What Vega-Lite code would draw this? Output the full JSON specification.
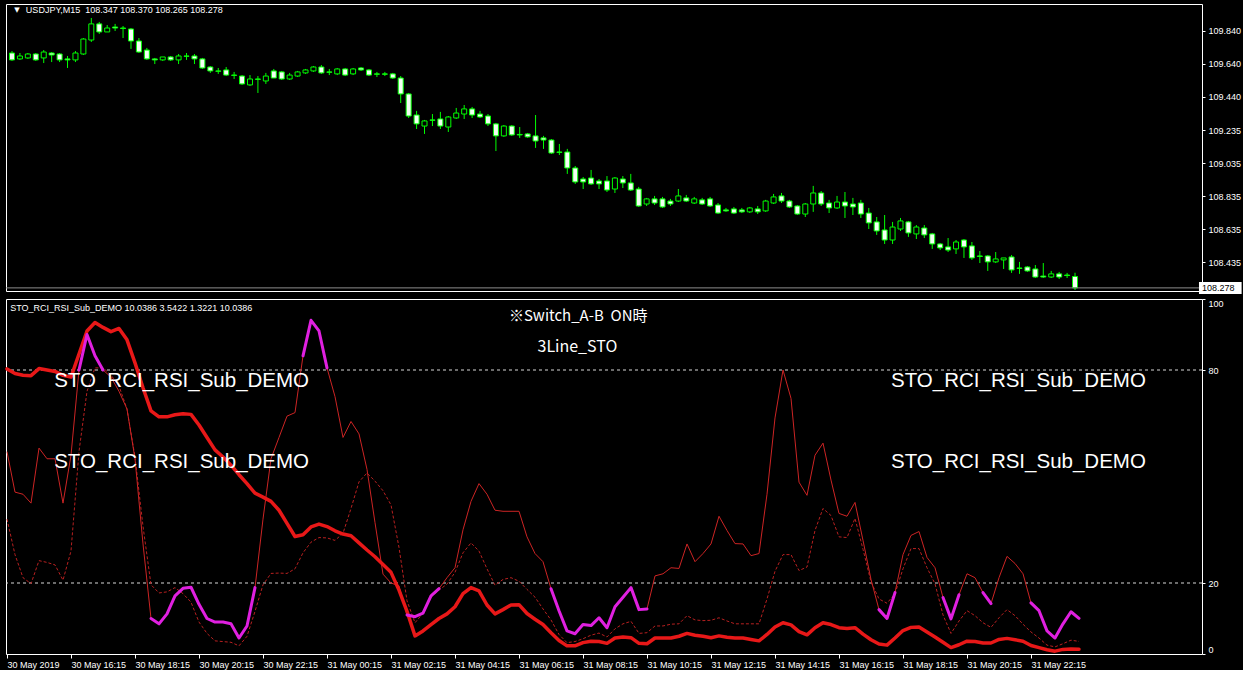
{
"$schema": "https://vega.github.io/schema/vega-lite/v6.json",
"background": "black",
"padding": {"left": 4, "top": 3, "right": 0, "bottom": 0},
"bounds": "flush",
"spacing": 8,
"config": {
  "view": {"stroke": "white", "strokeWidth": 1, "fill": "black"},
  "font": "Liberation Sans",
  "axis": {"labelColor": "white", "tickColor": "white", "domain": false, "grid": false, "labelFont": "Liberation Sans", "labelFontSize": 9, "tickSize": 3, "labelPadding": 3}
},
"datasets": {
  "levels": [{"lvl": 80}, {"lvl": 20}],
  "price": [{"p": 108.278}],
  "one": [{"k": 1}],
  "bars": [
{"i":0,"o":109.706,"h":109.718,"l":109.658,"c":109.664,"f":57,"d":38,"s":80.3,"m":null},
{"i":1,"o":109.670,"h":109.706,"l":109.664,"c":109.688,"f":45.6,"d":28,"s":79,"m":null},
{"i":2,"o":109.676,"h":109.706,"l":109.670,"c":109.700,"f":45,"d":21.5,"s":78.5,"m":null},
{"i":3,"o":109.700,"h":109.706,"l":109.658,"c":109.664,"f":42.5,"d":19.8,"s":78.4,"m":null},
{"i":4,"o":109.676,"h":109.724,"l":109.645,"c":109.712,"f":58,"d":26.3,"s":80.4,"m":null},
{"i":5,"o":109.706,"h":109.712,"l":109.651,"c":109.694,"f":55,"d":25.8,"s":80,"m":null},
{"i":6,"o":109.700,"h":109.706,"l":109.651,"c":109.664,"f":55,"d":25.1,"s":79.6,"m":null},
{"i":7,"o":109.670,"h":109.688,"l":109.615,"c":109.664,"f":42.5,"d":20.8,"s":78.5,"m":null},
{"i":8,"o":109.664,"h":109.718,"l":109.651,"c":109.706,"f":56,"d":29,"s":78,"m":null},
{"i":9,"o":109.700,"h":109.797,"l":109.694,"c":109.791,"f":80,"d":57,"s":84.5,"m":80},
{"i":10,"o":109.785,"h":109.919,"l":109.773,"c":109.883,"f":90,"d":74,"s":91,"m":90},
{"i":11,"o":109.883,"h":109.895,"l":109.822,"c":109.834,"f":84,"d":80.6,"s":93.4,"m":84},
{"i":12,"o":109.834,"h":109.876,"l":109.834,"c":109.858,"f":80,"d":80.6,"s":92,"m":80},
{"i":13,"o":109.864,"h":109.883,"l":109.840,"c":109.858,"f":78,"d":78.6,"s":90.8,"m":null},
{"i":14,"o":109.858,"h":109.870,"l":109.797,"c":109.855,"f":74,"d":75.5,"s":91.7,"m":null},
{"i":15,"o":109.852,"h":109.858,"l":109.731,"c":109.779,"f":69,"d":69,"s":88.5,"m":null},
{"i":16,"o":109.779,"h":109.797,"l":109.706,"c":109.712,"f":55,"d":55.5,"s":82,"m":null},
{"i":17,"o":109.724,"h":109.737,"l":109.664,"c":109.670,"f":31,"d":36,"s":75,"m":null},
{"i":18,"o":109.670,"h":109.676,"l":109.639,"c":109.664,"f":10,"d":19.5,"s":68.5,"m":10},
{"i":19,"o":109.664,"h":109.676,"l":109.658,"c":109.682,"f":8.5,"d":17.2,"s":66.8,"m":8.5},
{"i":20,"o":109.682,"h":109.688,"l":109.658,"c":109.664,"f":11.3,"d":17.5,"s":66.8,"m":11.3},
{"i":21,"o":109.664,"h":109.700,"l":109.639,"c":109.688,"f":16.4,"d":18.7,"s":67.4,"m":16.4},
{"i":22,"o":109.688,"h":109.706,"l":109.664,"c":109.686,"f":18.5,"d":17,"s":67.7,"m":18.5},
{"i":23,"o":109.688,"h":109.700,"l":109.639,"c":109.670,"f":18.8,"d":14.6,"s":67.5,"m":18.8},
{"i":24,"o":109.670,"h":109.676,"l":109.609,"c":109.615,"f":14,"d":9,"s":64.5,"m":14},
{"i":25,"o":109.621,"h":109.627,"l":109.585,"c":109.597,"f":10,"d":5.8,"s":61,"m":10},
{"i":26,"o":109.597,"h":109.615,"l":109.579,"c":109.595,"f":9,"d":3.7,"s":57.5,"m":9},
{"i":27,"o":109.603,"h":109.621,"l":109.566,"c":109.572,"f":9,"d":3.5,"s":55.5,"m":9},
{"i":28,"o":109.572,"h":109.591,"l":109.548,"c":109.570,"f":8.5,"d":3.3,"s":53.2,"m":8.5},
{"i":29,"o":109.566,"h":109.572,"l":109.512,"c":109.518,"f":4.5,"d":2.3,"s":50.5,"m":4.5},
{"i":30,"o":109.512,"h":109.572,"l":109.506,"c":109.548,"f":7.9,"d":5,"s":48,"m":7.9},
{"i":31,"o":109.548,"h":109.566,"l":109.463,"c":109.546,"f":18.7,"d":12,"s":45.3,"m":18.7},
{"i":32,"o":109.536,"h":109.585,"l":109.518,"c":109.566,"f":38,"d":19.5,"s":44.2,"m":null},
{"i":33,"o":109.597,"h":109.609,"l":109.554,"c":109.554,"f":55,"d":22.7,"s":43,"m":null},
{"i":34,"o":109.591,"h":109.597,"l":109.542,"c":109.548,"f":61,"d":22.8,"s":40.5,"m":null},
{"i":35,"o":109.548,"h":109.585,"l":109.542,"c":109.572,"f":67,"d":22.7,"s":36.8,"m":null},
{"i":36,"o":109.566,"h":109.597,"l":109.560,"c":109.591,"f":68,"d":24,"s":33.1,"m":null},
{"i":37,"o":109.585,"h":109.609,"l":109.579,"c":109.603,"f":84,"d":28.5,"s":33.6,"m":84},
{"i":38,"o":109.597,"h":109.627,"l":109.591,"c":109.621,"f":94,"d":31.5,"s":35.8,"m":94},
{"i":39,"o":109.621,"h":109.633,"l":109.579,"c":109.585,"f":91,"d":32.8,"s":36.6,"m":91},
{"i":40,"o":109.591,"h":109.609,"l":109.572,"c":109.589,"f":80.6,"d":32.7,"s":35.9,"m":80.6},
{"i":41,"o":109.579,"h":109.615,"l":109.572,"c":109.609,"f":72.5,"d":32,"s":34.7,"m":null},
{"i":42,"o":109.609,"h":109.615,"l":109.566,"c":109.572,"f":61,"d":34,"s":33.8,"m":null},
{"i":43,"o":109.579,"h":109.615,"l":109.572,"c":109.609,"f":65.5,"d":41,"s":33.3,"m":null},
{"i":44,"o":109.615,"h":109.621,"l":109.597,"c":109.603,"f":62,"d":48.5,"s":31.3,"m":null},
{"i":45,"o":109.603,"h":109.609,"l":109.566,"c":109.572,"f":52,"d":51,"s":29.3,"m":null},
{"i":46,"o":109.579,"h":109.591,"l":109.560,"c":109.577,"f":37,"d":48.7,"s":27.4,"m":null},
{"i":47,"o":109.579,"h":109.591,"l":109.566,"c":109.577,"f":22.5,"d":46,"s":25.2,"m":null},
{"i":48,"o":109.579,"h":109.585,"l":109.548,"c":109.554,"f":20,"d":42,"s":23,"m":null},
{"i":49,"o":109.554,"h":109.566,"l":109.402,"c":109.457,"f":19.2,"d":30,"s":18,"m":null},
{"i":50,"o":109.457,"h":109.463,"l":109.311,"c":109.323,"f":11,"d":15,"s":12,"m":11},
{"i":51,"o":109.329,"h":109.354,"l":109.244,"c":109.275,"f":10.5,"d":8.8,"s":5.1,"m":10.5},
{"i":52,"o":109.262,"h":109.299,"l":109.214,"c":109.293,"f":11.5,"d":11.5,"s":6.5,"m":11.5},
{"i":53,"o":109.299,"h":109.335,"l":109.262,"c":109.297,"f":16.4,"d":16,"s":8.3,"m":16.4},
{"i":54,"o":109.305,"h":109.348,"l":109.244,"c":109.262,"f":18.4,"d":18,"s":10,"m":18.4},
{"i":55,"o":109.256,"h":109.323,"l":109.226,"c":109.317,"f":21.5,"d":19.7,"s":11.3,"m":null},
{"i":56,"o":109.311,"h":109.372,"l":109.305,"c":109.341,"f":24.3,"d":23,"s":13.3,"m":null},
{"i":57,"o":109.335,"h":109.390,"l":109.305,"c":109.366,"f":35,"d":28.5,"s":17,"m":null},
{"i":58,"o":109.366,"h":109.378,"l":109.311,"c":109.329,"f":43,"d":31.3,"s":18.7,"m":null},
{"i":59,"o":109.335,"h":109.354,"l":109.311,"c":109.317,"f":48,"d":29,"s":17.8,"m":null},
{"i":60,"o":109.323,"h":109.335,"l":109.262,"c":109.275,"f":45,"d":24,"s":13.8,"m":null},
{"i":61,"o":109.275,"h":109.281,"l":109.110,"c":109.202,"f":40.5,"d":19.4,"s":11.3,"m":null},
{"i":62,"o":109.202,"h":109.268,"l":109.196,"c":109.262,"f":40.2,"d":21,"s":12.5,"m":null},
{"i":63,"o":109.262,"h":109.268,"l":109.202,"c":109.208,"f":40.2,"d":21.5,"s":13.8,"m":null},
{"i":64,"o":109.211,"h":109.256,"l":109.190,"c":109.208,"f":40.2,"d":20.5,"s":13.9,"m":null},
{"i":65,"o":109.214,"h":109.220,"l":109.190,"c":109.196,"f":33,"d":18.2,"s":11.4,"m":null},
{"i":66,"o":109.202,"h":109.329,"l":109.129,"c":109.171,"f":28.3,"d":16,"s":9.8,"m":null},
{"i":67,"o":109.190,"h":109.202,"l":109.123,"c":109.177,"f":26,"d":12.7,"s":8.3,"m":null},
{"i":68,"o":109.177,"h":109.183,"l":109.092,"c":109.098,"f":18.4,"d":9.6,"s":6,"m":18.4},
{"i":69,"o":109.104,"h":109.153,"l":109.086,"c":109.102,"f":12.2,"d":5.5,"s":3.8,"m":12.2},
{"i":70,"o":109.104,"h":109.123,"l":108.971,"c":109.007,"f":6.5,"d":3.2,"s":2.3,"m":6.5},
{"i":71,"o":109.007,"h":109.019,"l":108.910,"c":108.922,"f":5.7,"d":3.5,"s":2.3,"m":5.7},
{"i":72,"o":108.940,"h":108.952,"l":108.879,"c":108.922,"f":8.3,"d":4.3,"s":3.2,"m":8.3},
{"i":73,"o":108.946,"h":108.995,"l":108.904,"c":108.910,"f":8,"d":5.3,"s":3.6,"m":8},
{"i":74,"o":108.928,"h":108.940,"l":108.879,"c":108.910,"f":10.2,"d":5.9,"s":3.5,"m":10.2},
{"i":75,"o":108.928,"h":108.958,"l":108.861,"c":108.873,"f":7.4,"d":4.8,"s":3,"m":7.4},
{"i":76,"o":108.879,"h":108.952,"l":108.855,"c":108.946,"f":13.3,"d":7.1,"s":4.5,"m":13.3},
{"i":77,"o":108.940,"h":108.958,"l":108.885,"c":108.916,"f":16,"d":8.5,"s":4.8,"m":16},
{"i":78,"o":108.916,"h":108.971,"l":108.867,"c":108.873,"f":18.7,"d":9.2,"s":4.6,"m":18.7},
{"i":79,"o":108.879,"h":108.892,"l":108.770,"c":108.776,"f":12.5,"d":5.8,"s":3,"m":12.5},
{"i":80,"o":108.788,"h":108.825,"l":108.776,"c":108.819,"f":12.7,"d":6,"s":2.9,"m":12.7},
{"i":81,"o":108.819,"h":108.837,"l":108.782,"c":108.794,"f":22,"d":7.9,"s":4.5,"m":null},
{"i":82,"o":108.819,"h":108.831,"l":108.764,"c":108.770,"f":22.6,"d":7.9,"s":4.5,"m":null},
{"i":83,"o":108.806,"h":108.819,"l":108.776,"c":108.788,"f":24.3,"d":8.4,"s":4.5,"m":null},
{"i":84,"o":108.806,"h":108.879,"l":108.800,"c":108.837,"f":24.1,"d":8.5,"s":5,"m":null},
{"i":85,"o":108.825,"h":108.843,"l":108.800,"c":108.806,"f":31,"d":10.8,"s":5.8,"m":null},
{"i":86,"o":108.794,"h":108.831,"l":108.788,"c":108.819,"f":26,"d":9.6,"s":5.3,"m":null},
{"i":87,"o":108.813,"h":108.825,"l":108.782,"c":108.788,"f":28.3,"d":9.4,"s":5,"m":null},
{"i":88,"o":108.819,"h":108.831,"l":108.770,"c":108.776,"f":31,"d":9.5,"s":4.6,"m":null},
{"i":89,"o":108.782,"h":108.794,"l":108.727,"c":108.733,"f":38.8,"d":10.2,"s":5.1,"m":null},
{"i":90,"o":108.752,"h":108.764,"l":108.740,"c":108.746,"f":34.8,"d":9.3,"s":4.7,"m":null},
{"i":91,"o":108.758,"h":108.770,"l":108.727,"c":108.733,"f":31.1,"d":8.5,"s":4.5,"m":null},
{"i":92,"o":108.752,"h":108.764,"l":108.733,"c":108.740,"f":31,"d":8.5,"s":4.5,"m":null},
{"i":93,"o":108.740,"h":108.770,"l":108.733,"c":108.764,"f":27.7,"d":8.5,"s":4.1,"m":null},
{"i":94,"o":108.758,"h":108.776,"l":108.727,"c":108.740,"f":28.3,"d":8.5,"s":3.7,"m":null},
{"i":95,"o":108.746,"h":108.813,"l":108.740,"c":108.806,"f":45,"d":15.5,"s":5.5,"m":null},
{"i":96,"o":108.794,"h":108.849,"l":108.788,"c":108.831,"f":66.5,"d":23.3,"s":7.6,"m":null},
{"i":97,"o":108.837,"h":108.855,"l":108.794,"c":108.806,"f":80,"d":28,"s":8.8,"m":null},
{"i":98,"o":108.806,"h":108.813,"l":108.764,"c":108.770,"f":72,"d":28,"s":8.2,"m":null},
{"i":99,"o":108.776,"h":108.782,"l":108.721,"c":108.727,"f":48.4,"d":23.5,"s":6.3,"m":null},
{"i":100,"o":108.727,"h":108.794,"l":108.709,"c":108.788,"f":44.7,"d":24.5,"s":5.4,"m":null},
{"i":101,"o":108.788,"h":108.898,"l":108.740,"c":108.855,"f":56,"d":34.8,"s":7.4,"m":null},
{"i":102,"o":108.855,"h":108.867,"l":108.776,"c":108.788,"f":59.4,"d":41,"s":8.8,"m":null},
{"i":103,"o":108.794,"h":108.813,"l":108.733,"c":108.764,"f":49,"d":39,"s":8.3,"m":null},
{"i":104,"o":108.764,"h":108.837,"l":108.758,"c":108.800,"f":39.6,"d":33,"s":7.4,"m":null},
{"i":105,"o":108.800,"h":108.861,"l":108.703,"c":108.776,"f":38.8,"d":32.8,"s":7.2,"m":null},
{"i":106,"o":108.788,"h":108.825,"l":108.721,"c":108.770,"f":42.7,"d":38.2,"s":7.4,"m":null},
{"i":107,"o":108.794,"h":108.813,"l":108.703,"c":108.727,"f":32,"d":29.5,"s":5.6,"m":null},
{"i":108,"o":108.733,"h":108.764,"l":108.636,"c":108.673,"f":21,"d":20.3,"s":4,"m":null},
{"i":109,"o":108.679,"h":108.709,"l":108.600,"c":108.624,"f":12.5,"d":15.5,"s":2.8,"m":12.5},
{"i":110,"o":108.630,"h":108.721,"l":108.545,"c":108.569,"f":10,"d":14.3,"s":2.5,"m":10},
{"i":111,"o":108.569,"h":108.679,"l":108.545,"c":108.648,"f":17.3,"d":17,"s":4.5,"m":17.3},
{"i":112,"o":108.636,"h":108.703,"l":108.624,"c":108.685,"f":28,"d":24,"s":6.6,"m":null},
{"i":113,"o":108.679,"h":108.685,"l":108.588,"c":108.612,"f":33.4,"d":29.7,"s":7.5,"m":null},
{"i":114,"o":108.606,"h":108.660,"l":108.575,"c":108.648,"f":34.5,"d":29.7,"s":7.6,"m":null},
{"i":115,"o":108.642,"h":108.660,"l":108.581,"c":108.600,"f":27.2,"d":24.3,"s":6.2,"m":null},
{"i":116,"o":108.606,"h":108.612,"l":108.515,"c":108.545,"f":24.3,"d":19.8,"s":4.8,"m":null},
{"i":117,"o":108.545,"h":108.551,"l":108.508,"c":108.521,"f":15.9,"d":11,"s":3.3,"m":15.9},
{"i":118,"o":108.527,"h":108.581,"l":108.496,"c":108.508,"f":9.9,"d":5.8,"s":1.8,"m":9.9},
{"i":119,"o":108.515,"h":108.569,"l":108.484,"c":108.557,"f":16.7,"d":9.3,"s":2.6,"m":16.7},
{"i":120,"o":108.569,"h":108.575,"l":108.460,"c":108.527,"f":22.6,"d":12.2,"s":3.6,"m":null},
{"i":121,"o":108.533,"h":108.557,"l":108.448,"c":108.460,"f":21.5,"d":10.8,"s":3.5,"m":null},
{"i":122,"o":108.472,"h":108.502,"l":108.429,"c":108.469,"f":17.3,"d":8.8,"s":3.1,"m":17.3},
{"i":123,"o":108.472,"h":108.478,"l":108.381,"c":108.436,"f":14.2,"d":7.5,"s":3.1,"m":14.2},
{"i":124,"o":108.436,"h":108.496,"l":108.429,"c":108.454,"f":21.5,"d":10.2,"s":4.1,"m":null},
{"i":125,"o":108.448,"h":108.460,"l":108.393,"c":108.460,"f":27.5,"d":12.5,"s":4.4,"m":null},
{"i":126,"o":108.466,"h":108.478,"l":108.369,"c":108.387,"f":25.5,"d":10.8,"s":4,"m":null},
{"i":127,"o":108.399,"h":108.436,"l":108.363,"c":108.396,"f":22.6,"d":8.4,"s":3.6,"m":null},
{"i":128,"o":108.405,"h":108.411,"l":108.375,"c":108.381,"f":14.4,"d":6.2,"s":2.4,"m":14.4},
{"i":129,"o":108.393,"h":108.417,"l":108.338,"c":108.344,"f":12.2,"d":4.5,"s":1.8,"m":12.2},
{"i":130,"o":108.350,"h":108.429,"l":108.338,"c":108.344,"f":6.5,"d":2.5,"s":1.2,"m":6.5},
{"i":131,"o":108.344,"h":108.381,"l":108.338,"c":108.363,"f":4.5,"d":2,"s":0.8,"m":4.5},
{"i":132,"o":108.363,"h":108.375,"l":108.332,"c":108.344,"f":8.5,"d":2.9,"s":1.3,"m":8.5},
{"i":133,"o":108.356,"h":108.369,"l":108.338,"c":108.353,"f":11.9,"d":3.9,"s":1.4,"m":11.9},
{"i":134,"o":108.347,"h":108.370,"l":108.265,"c":108.278,"f":10.0386,"d":3.5422,"s":1.3221,"m":10.0386}
  ]
},
"vconcat": [
{
  "width": 1196, "height": 287,
  "layer": [
    {"data": {"name": "bars"},
     "mark": {"type": "rule", "color": "#00ff00", "strokeWidth": 1},
     "encoding": {
       "x": {"field": "i", "type": "quantitative", "scale": {"domain": [-0.125, 149.375], "nice": false, "zero": false}, "axis": null},
       "y": {"field": "l", "type": "quantitative", "scale": {"domain": [108.259, 110.004], "nice": false, "zero": false}, "axis": {"orient": "right", "title": null, "values": [109.84, 109.64, 109.44, 109.235, 109.035, 108.835, 108.635, 108.435], "format": ".3f"}},
       "y2": {"field": "h"}
     }},
    {"data": {"name": "bars"},
     "mark": {"type": "bar", "width": 5, "stroke": "#00ff00", "strokeWidth": 1},
     "encoding": {
       "x": {"field": "i", "type": "quantitative", "scale": {"domain": [-0.125, 149.375], "nice": false, "zero": false}, "axis": null},
       "y": {"field": "o", "type": "quantitative", "scale": {"domain": [108.259, 110.004], "nice": false, "zero": false}, "axis": {"orient": "right", "title": null, "values": [109.84, 109.64, 109.44, 109.235, 109.035, 108.835, 108.635, 108.435], "format": ".3f"}},
       "y2": {"field": "c"},
       "fill": {"condition": {"test": "datum.c < datum.o", "value": "#f4fff4"}, "value": "black"}
     }},
    {"data": {"name": "price"},
     "mark": {"type": "rule", "color": "#8c8c8c", "strokeWidth": 1},
     "encoding": {
       "y": {"field": "p", "type": "quantitative", "scale": {"domain": [108.259, 110.004], "nice": false, "zero": false}, "axis": {"orient": "right", "title": null, "values": [109.84, 109.64, 109.44, 109.235, 109.035, 108.835, 108.635, 108.435], "format": ".3f"}}
     }},
    {"data": {"name": "price"},
     "mark": {"type": "rect", "fill": "white", "clip": false},
     "encoding": {
       "x": {"datum": 149.625, "type": "quantitative", "scale": {"domain": [-0.125, 149.375], "nice": false, "zero": false}, "axis": null},
       "x2": {"datum": 155.0},
       "y": {"datum": 108.314, "type": "quantitative", "scale": {"domain": [108.259, 110.004], "nice": false, "zero": false}, "axis": {"orient": "right", "title": null, "values": [109.84, 109.64, 109.44, 109.235, 109.035, 108.835, 108.635, 108.435], "format": ".3f"}},
       "y2": {"datum": 108.241}
     }},
    {"data": {"name": "price"},
     "mark": {"type": "text", "color": "black", "align": "left", "baseline": "middle", "fontSize": 9, "font": "Liberation Sans", "clip": false},
     "encoding": {
       "x": {"datum": 150.0, "type": "quantitative", "scale": {"domain": [-0.125, 149.375], "nice": false, "zero": false}, "axis": null},
       "y": {"field": "p", "type": "quantitative", "scale": {"domain": [108.259, 110.004], "nice": false, "zero": false}, "axis": {"orient": "right", "title": null, "values": [109.84, 109.64, 109.44, 109.235, 109.035, 108.835, 108.635, 108.435], "format": ".3f"}},
       "text": {"field": "p", "format": ".3f"}
     }},
    {"data": {"name": "one"},
     "mark": {"type": "text", "text": "▼", "color": "white", "align": "left", "baseline": "middle", "fontSize": 7, "font": "DejaVu Sans"},
     "encoding": {
       "x": {"datum": 0.3, "type": "quantitative", "scale": {"domain": [-0.125, 149.375], "nice": false, "zero": false}, "axis": null},
       "y": {"datum": 109.967, "type": "quantitative", "scale": {"domain": [108.259, 110.004], "nice": false, "zero": false}, "axis": {"orient": "right", "title": null, "values": [109.84, 109.64, 109.44, 109.235, 109.035, 108.835, 108.635, 108.435], "format": ".3f"}}
     }},
    {"data": {"name": "one"},
     "mark": {"type": "text", "text": "USDJPY,M15\u00a0 108.347 108.370 108.265 108.278", "color": "white", "align": "left", "baseline": "middle", "fontSize": 9, "font": "Liberation Sans"},
     "encoding": {
       "x": {"datum": 1.75, "type": "quantitative", "scale": {"domain": [-0.125, 149.375], "nice": false, "zero": false}, "axis": null},
       "y": {"datum": 109.967, "type": "quantitative", "scale": {"domain": [108.259, 110.004], "nice": false, "zero": false}, "axis": {"orient": "right", "title": null, "values": [109.84, 109.64, 109.44, 109.235, 109.035, 108.835, 108.635, 108.435], "format": ".3f"}}
     }}
  ]
},
{
  "width": 1196, "height": 355,
  "layer": [
    {"data": {"name": "levels"},
     "mark": {"type": "rule", "color": "#d8d8d8", "strokeWidth": 1, "strokeDash": [3, 3]},
     "encoding": {
       "y": {"field": "lvl", "type": "quantitative", "scale": {"domain": [0, 100], "nice": false}, "axis": {"orient": "right", "title": null, "values": [0, 20, 80, 100], "labelFlush": true}}
     }},
    {"data": {"name": "bars"},
     "mark": {"type": "line", "color": "#b82020", "strokeWidth": 1, "strokeDash": [3, 2]},
     "encoding": {
       "x": {"field": "i", "type": "quantitative", "scale": {"domain": [-0.125, 149.375], "nice": false, "zero": false}, "axis": {"title": null, "values": [0, 8, 16, 24, 32, 40, 48, 56, 64, 72, 80, 88, 96, 104, 112, 120, 128], "labelExpr": "['30 May 2019','30 May 16:15','30 May 18:15','30 May 20:15','30 May 22:15','31 May 00:15','31 May 02:15','31 May 04:15','31 May 06:15','31 May 08:15','31 May 10:15','31 May 12:15','31 May 14:15','31 May 16:15','31 May 18:15','31 May 20:15','31 May 22:15'][round(datum.value/8)]", "labelAlign": "left", "labelOverlap": false, "labelFlush": false, "tickSize": 4, "labelPadding": 2}},
       "y": {"field": "d", "type": "quantitative", "scale": {"domain": [0, 100], "nice": false}, "axis": {"orient": "right", "title": null, "values": [0, 20, 80, 100], "labelFlush": true}}
     }},
    {"data": {"name": "bars"},
     "mark": {"type": "line", "color": "#cc2424", "strokeWidth": 1},
     "encoding": {
       "x": {"field": "i", "type": "quantitative", "scale": {"domain": [-0.125, 149.375], "nice": false, "zero": false}, "axis": {"title": null, "values": [0, 8, 16, 24, 32, 40, 48, 56, 64, 72, 80, 88, 96, 104, 112, 120, 128], "labelExpr": "['30 May 2019','30 May 16:15','30 May 18:15','30 May 20:15','30 May 22:15','31 May 00:15','31 May 02:15','31 May 04:15','31 May 06:15','31 May 08:15','31 May 10:15','31 May 12:15','31 May 14:15','31 May 16:15','31 May 18:15','31 May 20:15','31 May 22:15'][round(datum.value/8)]", "labelAlign": "left", "labelOverlap": false, "labelFlush": false, "tickSize": 4, "labelPadding": 2}},
       "y": {"field": "f", "type": "quantitative", "scale": {"domain": [0, 100], "nice": false}, "axis": {"orient": "right", "title": null, "values": [0, 20, 80, 100], "labelFlush": true}}
     }},
    {"data": {"name": "bars"},
     "mark": {"type": "line", "color": "#e81818", "strokeWidth": 3.5, "strokeJoin": "round", "strokeCap": "round"},
     "encoding": {
       "x": {"field": "i", "type": "quantitative", "scale": {"domain": [-0.125, 149.375], "nice": false, "zero": false}, "axis": {"title": null, "values": [0, 8, 16, 24, 32, 40, 48, 56, 64, 72, 80, 88, 96, 104, 112, 120, 128], "labelExpr": "['30 May 2019','30 May 16:15','30 May 18:15','30 May 20:15','30 May 22:15','31 May 00:15','31 May 02:15','31 May 04:15','31 May 06:15','31 May 08:15','31 May 10:15','31 May 12:15','31 May 14:15','31 May 16:15','31 May 18:15','31 May 20:15','31 May 22:15'][round(datum.value/8)]", "labelAlign": "left", "labelOverlap": false, "labelFlush": false, "tickSize": 4, "labelPadding": 2}},
       "y": {"field": "s", "type": "quantitative", "scale": {"domain": [0, 100], "nice": false}, "axis": {"orient": "right", "title": null, "values": [0, 20, 80, 100], "labelFlush": true}}
     }},
    {"data": {"name": "bars"},
     "mark": {"type": "line", "color": "#e020e0", "strokeWidth": 3, "strokeJoin": "round", "strokeCap": "round", "invalid": "break-paths-show-domains"},
     "encoding": {
       "x": {"field": "i", "type": "quantitative", "scale": {"domain": [-0.125, 149.375], "nice": false, "zero": false}, "axis": {"title": null, "values": [0, 8, 16, 24, 32, 40, 48, 56, 64, 72, 80, 88, 96, 104, 112, 120, 128], "labelExpr": "['30 May 2019','30 May 16:15','30 May 18:15','30 May 20:15','30 May 22:15','31 May 00:15','31 May 02:15','31 May 04:15','31 May 06:15','31 May 08:15','31 May 10:15','31 May 12:15','31 May 14:15','31 May 16:15','31 May 18:15','31 May 20:15','31 May 22:15'][round(datum.value/8)]", "labelAlign": "left", "labelOverlap": false, "labelFlush": false, "tickSize": 4, "labelPadding": 2}},
       "y": {"field": "m", "type": "quantitative", "scale": {"domain": [0, 100], "nice": false}, "axis": {"orient": "right", "title": null, "values": [0, 20, 80, 100], "labelFlush": true}}
     }},
    {"data": {"name": "one"},
     "mark": {"type": "text", "text": "STO_RCI_RSI_Sub_DEMO 10.0386 3.5422 1.3221 10.0386", "color": "white", "align": "left", "baseline": "middle", "fontSize": 9, "font": "Liberation Sans"},
     "encoding": {
       "x": {"datum": 0.4, "type": "quantitative"},
       "y": {"datum": 97.6, "type": "quantitative"}
     }},
    {"data": {"name": "one"},
     "mark": {"type": "text", "text": "STO_RCI_RSI_Sub_DEMO", "color": "white", "align": "left", "baseline": "middle", "fontSize": 20.5, "font": "Liberation Sans"},
     "encoding": {"x": {"datum": 5.9, "type": "quantitative"}, "y": {"datum": 76.8, "type": "quantitative"}}},
    {"data": {"name": "one"},
     "mark": {"type": "text", "text": "STO_RCI_RSI_Sub_DEMO", "color": "white", "align": "left", "baseline": "middle", "fontSize": 20.5, "font": "Liberation Sans"},
     "encoding": {"x": {"datum": 5.9, "type": "quantitative"}, "y": {"datum": 54.2, "type": "quantitative"}}},
    {"data": {"name": "one"},
     "mark": {"type": "text", "text": "STO_RCI_RSI_Sub_DEMO", "color": "white", "align": "left", "baseline": "middle", "fontSize": 20.5, "font": "Liberation Sans"},
     "encoding": {"x": {"datum": 110.5, "type": "quantitative"}, "y": {"datum": 76.8, "type": "quantitative"}}},
    {"data": {"name": "one"},
     "mark": {"type": "text", "text": "STO_RCI_RSI_Sub_DEMO", "color": "white", "align": "left", "baseline": "middle", "fontSize": 20.5, "font": "Liberation Sans"},
     "encoding": {"x": {"datum": 110.5, "type": "quantitative"}, "y": {"datum": 54.2, "type": "quantitative"}}},
    {"data": {"name": "one"},
     "mark": {"type": "text", "text": "※Switch_A-B\u00a0 ON時", "color": "white", "align": "center", "baseline": "middle", "fontSize": 15, "font": "Noto Sans CJK JP"},
     "encoding": {"x": {"datum": 71.4, "type": "quantitative"}, "y": {"datum": 95.2, "type": "quantitative"}}},
    {"data": {"name": "one"},
     "mark": {"type": "text", "text": "3Line_STO", "color": "white", "align": "center", "baseline": "middle", "fontSize": 16, "font": "Noto Sans CJK JP"},
     "encoding": {"x": {"datum": 71.3, "type": "quantitative"}, "y": {"datum": 86.4, "type": "quantitative"}}}
  ]
}
]
}
